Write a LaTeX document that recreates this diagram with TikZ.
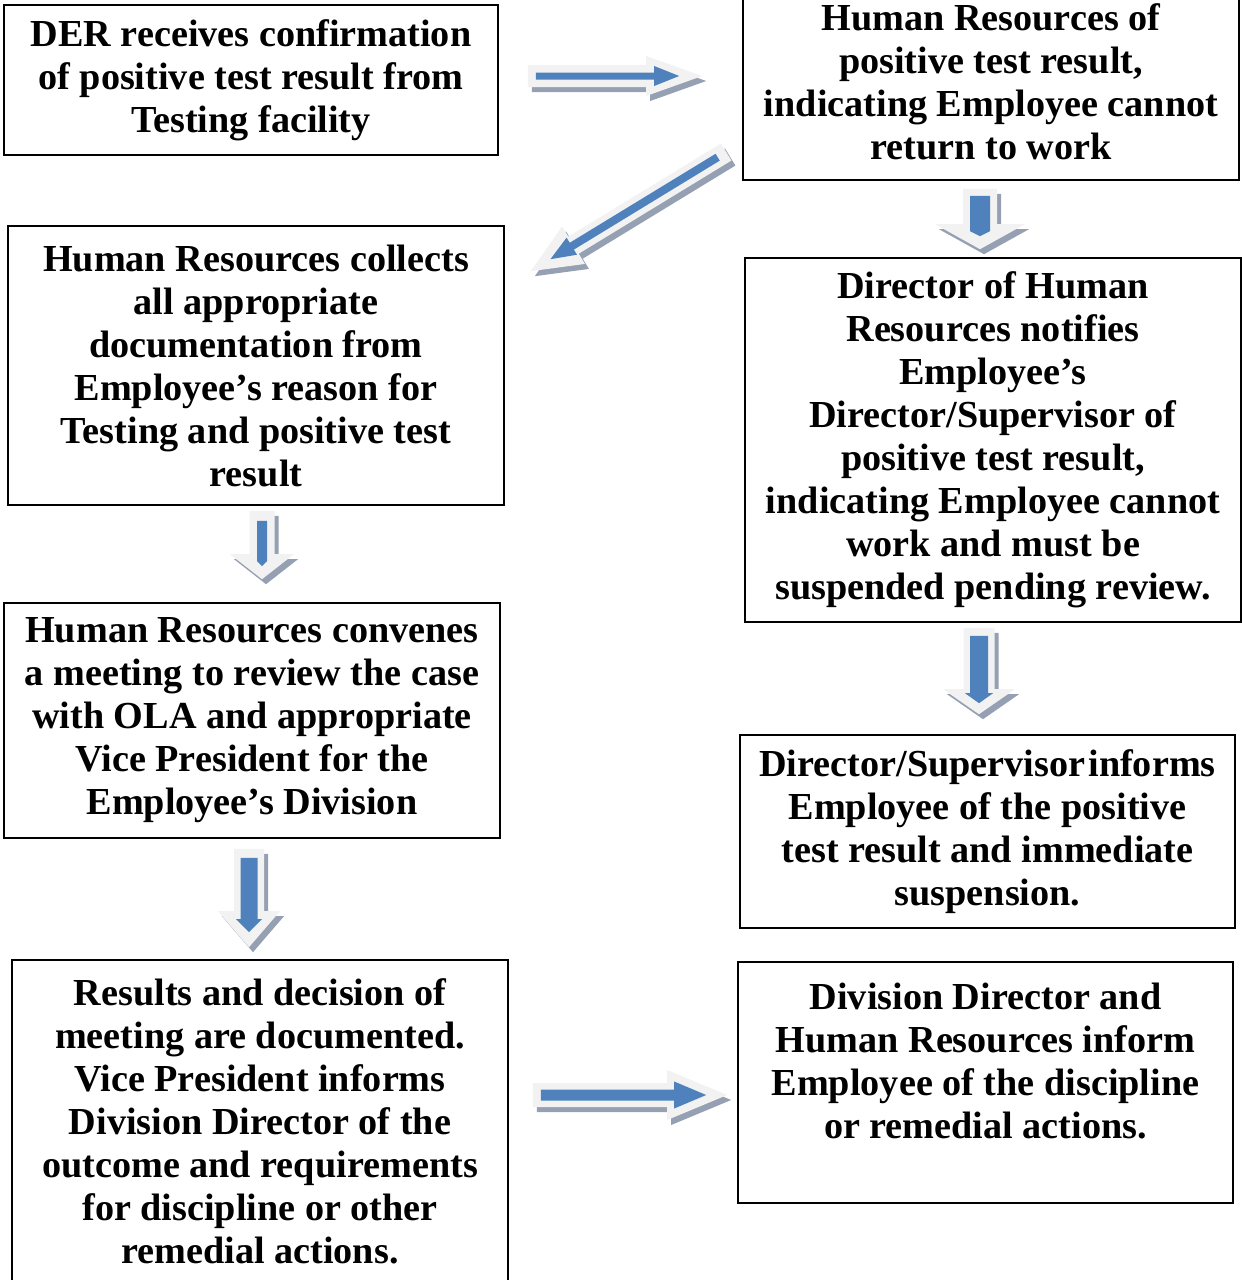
\documentclass[tikz,border=0pt]{standalone}
\usepackage{fontspec}
\setmainfont{Liberation Serif}
\usetikzlibrary{calc}
\definecolor{arrowblue}{RGB}{79,129,189}
\definecolor{arrowlight}{RGB}{242,242,242}
\definecolor{arrowshade}{RGB}{149,160,178}
\pgfkeys{/flowarrow/.is family, /flowarrow/.cd,
  shaft/.initial=11, head/.initial=22, headlen/.initial=50,
  ishaft/.initial=3.5, ihead/.initial=10, iheadlen/.initial=25,
  istart/.initial=8, iend/.initial=23}
\def\fa#1{\pgfkeysvalueof{/flowarrow/#1}}
% one block arrow outline, local frame: tail at x=#2, tip at x=#3
\newcommand\arrshape[6]{%
  \fill[#1] (#2,-#4) -- (#3-#6,-#4) -- (#3-#6,-#5) -- (#3,0)
    -- (#3-#6,#5) -- (#3-#6,#4) -- (#2,#4) -- cycle;
}
\newcommand\flowarrow[3][]{%
  \pgfkeys{/flowarrow/.cd,#1}%
  \path let \p1=($(#3)-(#2)$) in \pgfextra{
    \pgfmathsetmacro\arrlen{veclen(\x1,\y1)}
    \pgfmathsetmacro\arrang{atan2(\y1,\x1)}
    \xdef\arrlen{\arrlen} \xdef\arrang{\arrang}
  };
  \begin{scope}[shift={(#2)}, xshift=4pt, yshift=-5pt, rotate=\arrang]
    \arrshape{arrowshade}{0}{\arrlen}{\fa{shaft}}{\fa{head}}{\fa{headlen}}
  \end{scope}
  \begin{scope}[shift={(#2)}, rotate=\arrang]
    \arrshape{arrowlight}{0}{\arrlen}{\fa{shaft}}{\fa{head}}{\fa{headlen}}
    \arrshape{arrowblue}{\fa{istart}}{\arrlen-\fa{iend}}{\fa{ishaft}}{\fa{ihead}}{\fa{iheadlen}}
  \end{scope}
}

\begin{document}
\begin{tikzpicture}[x=1pt, y=-1pt,
  stepbox/.style={draw, line width=1.6pt, align=center, inner sep=0pt,
    font=\fontsize{38.2}{43}\selectfont\bfseries}]
  \useasboundingbox (0,0) rectangle (1242,1280);

  % left column
  \node[stepbox, minimum width=494pt, minimum height=150pt] (der) at (251,80)
    {DER receives confirmation\\of positive test result from\\Testing facility};
  \node[stepbox, minimum width=496pt, minimum height=279pt] (collect) at (256,365.5)
    {Human Resources collects\\all appropriate\\documentation from\\Employee’s reason for\\Testing and positive test\\result};
  \node[stepbox, minimum width=496pt, minimum height=235pt] (convene) at (252,720.5)
    {Human Resources convenes\\a meeting to review the case\\with OLA and appropriate\\Vice President for the\\Employee’s Division};
  \node[stepbox, minimum width=496pt, minimum height=322pt] (results) at (260,1121)
    {Results and decision of\\meeting are documented.\\Vice President informs\\Division Director of the\\outcome and requirements\\for discipline or other\\remedial actions.};

  % right column
  \node[stepbox, minimum width=496pt, minimum height=196pt] (hrpos) at (991,82)
    {Human Resources of\\positive test result,\\indicating Employee cannot\\return to work};
  \node[stepbox, minimum width=496pt, minimum height=364pt] (dirhr) at (993,440)
    {Director of Human\\Resources notifies\\Employee’s\\Director/Supervisor of\\positive test result,\\indicating Employee cannot\\work and must be\\suspended pending review.};
  \node[stepbox, minimum width=495pt, minimum height=193pt] (supinf) at (987.5,831.5)
    {Director/Supervisor\kern3pt informs\\Employee of the positive\\test result and immediate\\suspension.};
  \node[stepbox, minimum width=495pt, minimum height=241pt] (divdir) at (985.5,1082.5)
    {Division Director and\\Human Resources inform\\Employee of the discipline\\or remedial actions.\\\mbox{}};

  % arrow ends
  \coordinate (a1s) at ($(der.east)+(29,-4)$);
  \coordinate (a1e) at ($(hrpos.west)+(-40,-6)$);
  \coordinate (a2s) at ($(hrpos.west)+(-16,70)$);
  \coordinate (a2e) at ($(collect.north east)+(26,46)$);
  \coordinate (a3s) at ($(hrpos.south)+(-11,8)$);
  \coordinate (a3e) at ($(dirhr.north)+(-13,-8)$);
  \coordinate (a4s) at ($(collect.south)+(6,5)$);
  \coordinate (a4e) at ($(convene.north)+(10,-23)$);
  \coordinate (a5s) at ($(dirhr.south)+(-14,5)$);
  \coordinate (a5e) at ($(supinf.north)+(-8.5,-20)$);
  \coordinate (a6s) at ($(convene.south)+(-3,10)$);
  \coordinate (a6e) at ($(results.north)+(-11,-12)$);
  \coordinate (a7s) at ($(results.east)+(24,-26)$);
  \coordinate (a7e) at ($(divdir.west)+(-10,12.5)$);

  \flowarrow[shaft=11, head=20, headlen=56, ishaft=3.5, ihead=10, iheadlen=25, istart=8, iend=23]{a1s}{a1e}
  \flowarrow[shaft=10, head=22, headlen=50, ishaft=4, ihead=10, iheadlen=25, istart=10, iend=23]{a2s}{a2e}
  \flowarrow[shaft=17, head=45, headlen=25, ishaft=10, ihead=10, iheadlen=5, istart=7, iend=13]{a3s}{a3e}
  \flowarrow[shaft=12.5, head=32, headlen=25, ishaft=5, ihead=5, iheadlen=5, istart=10, iend=13]{a4s}{a4e}
  \flowarrow[shaft=15.5, head=36, headlen=25, ishaft=9, ihead=14, iheadlen=10, istart=8, iend=11]{a5s}{a5e}
  \flowarrow[shaft=15, head=31, headlen=36, ishaft=8.5, ihead=13, iheadlen=13, istart=9, iend=15]{a6s}{a6e}
  \flowarrow[shaft=12, head=25, headlen=60, ishaft=5.5, ihead=13.5, iheadlen=32, istart=8, iend=21]{a7s}{a7e}
\end{tikzpicture}
\end{document}
